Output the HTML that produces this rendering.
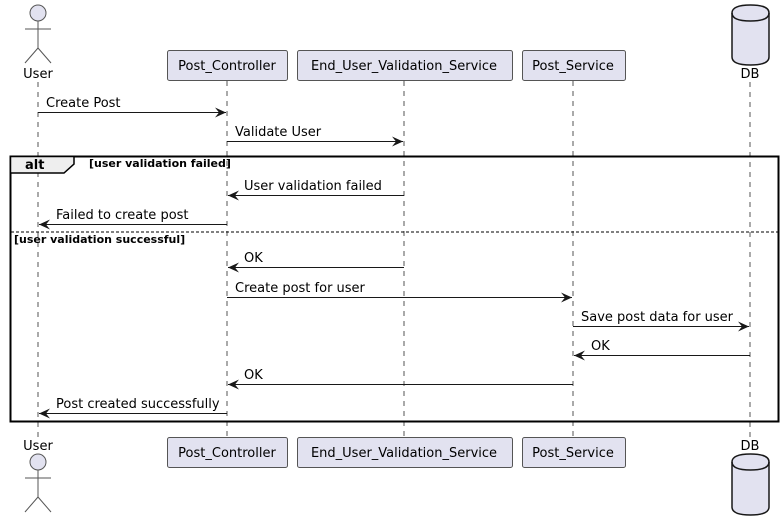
<!DOCTYPE html>
<html><head><meta charset="utf-8"><style>
html,body{margin:0;padding:0;background:#fff;}
svg{display:block;}
text{font-family:"DejaVu Sans","Liberation Sans",sans-serif;font-size:13px;fill:#000;}
.b{font-weight:bold;font-size:11px;}
</style></head><body>
<svg width="784" height="518" viewBox="0 0 784 518" xmlns="http://www.w3.org/2000/svg">
<defs>
<marker id="a" viewBox="0 0 12 10" refX="11" refY="5" markerWidth="12" markerHeight="10" markerUnits="userSpaceOnUse" orient="auto">
<path d="M0,0 L11,5 L0,10 L4,5 Z" fill="#181818"/>
</marker>
</defs>
<g stroke="#555" stroke-width="1" stroke-dasharray="5,5">
<line x1="38" y1="82" x2="38" y2="437"/>
<line x1="227" y1="81" x2="227" y2="437"/>
<line x1="404" y1="81" x2="404" y2="437"/>
<line x1="573" y1="81" x2="573" y2="437"/>
<line x1="750" y1="82" x2="750" y2="437"/>
</g>
<!-- top actor -->
<g stroke="#555" fill="#e2e2f0" stroke-width="1">
<circle cx="38" cy="13" r="8"/>
<line x1="38" y1="21" x2="38" y2="48"/>
<line x1="25" y1="29" x2="51" y2="29"/>
<line x1="38" y1="48" x2="25" y2="63"/>
<line x1="38" y1="48" x2="51" y2="63"/>
</g>
<text x="38" y="78" text-anchor="middle">User</text>
<!-- bottom actor -->
<g stroke="#555" fill="#e2e2f0" stroke-width="1">
<circle cx="38" cy="462" r="8"/>
<line x1="38" y1="470" x2="38" y2="497"/>
<line x1="25" y1="478" x2="51" y2="478"/>
<line x1="38" y1="497" x2="25" y2="512"/>
<line x1="38" y1="497" x2="51" y2="512"/>
</g>
<text x="38" y="450" text-anchor="middle">User</text>
<!-- boxes -->
<g fill="#e2e2f0" stroke="#555" stroke-width="1">
<rect x="167.5" y="50.5" width="120" height="30" rx="2"/>
<rect x="297.5" y="50.5" width="215" height="30" rx="2"/>
<rect x="522.5" y="50.5" width="103" height="30" rx="2"/>
<rect x="167.5" y="437.5" width="120" height="30" rx="2"/>
<rect x="297.5" y="437.5" width="215" height="30" rx="2"/>
<rect x="522.5" y="437.5" width="103" height="30" rx="2"/>
</g>
<text x="227" y="70" text-anchor="middle">Post_Controller</text>
<text x="404" y="70" text-anchor="middle">End_User_Validation_Service</text>
<text x="573" y="70" text-anchor="middle">Post_Service</text>
<text x="227" y="457" text-anchor="middle">Post_Controller</text>
<text x="404" y="457" text-anchor="middle">End_User_Validation_Service</text>
<text x="573" y="457" text-anchor="middle">Post_Service</text>
<!-- DB cylinders -->
<g fill="#e2e2f0" stroke="#181818" stroke-width="1.5">
<path d="M732,13 Q732,5 750.5,5 Q769,5 769,13 L769,57 Q769,65 750.5,65 Q732,65 732,57 Z"/>
<path d="M732,13 Q732,21 750.5,21 Q769,21 769,13" fill="none"/>
<path d="M732,462 Q732,454 750.5,454 Q769,454 769,462 L769,507 Q769,515 750.5,515 Q732,515 732,507 Z"/>
<path d="M732,462 Q732,470 750.5,470 Q769,470 769,462" fill="none"/>
</g>
<text x="750" y="78" text-anchor="middle">DB</text>
<text x="750" y="450" text-anchor="middle">DB</text>
<!-- alt frame -->
<rect x="10.5" y="156.5" width="768" height="265" fill="none" stroke="#000" stroke-width="2"/>
<path d="M10.5,156.5 L74,156.5 L74,164 L64,173 L10.5,173 Z" fill="#eee" stroke="#000" stroke-width="1.5"/>
<text x="25" y="169" style="font-weight:bold;font-size:13px">alt</text>
<text class="b" x="89" y="167">[user validation failed]</text>
<line x1="11" y1="232" x2="778" y2="232" stroke="#000" stroke-width="1" stroke-dasharray="3,2"/>
<text class="b" x="14" y="243">[user validation successful]</text>
<!-- messages -->
<g stroke="#181818" stroke-width="1" marker-end="url(#a)">
<line x1="38" y1="112.5" x2="226" y2="112.5"/>
<line x1="227" y1="141.5" x2="403" y2="141.5"/>
<line x1="404" y1="195.5" x2="228" y2="195.5"/>
<line x1="227" y1="224.5" x2="39" y2="224.5"/>
<line x1="404" y1="267.5" x2="228" y2="267.5"/>
<line x1="227" y1="297.5" x2="572" y2="297.5"/>
<line x1="573" y1="326.5" x2="749" y2="326.5"/>
<line x1="750" y1="355.5" x2="574" y2="355.5"/>
<line x1="573" y1="384.5" x2="228" y2="384.5"/>
<line x1="227" y1="413.5" x2="39" y2="413.5"/>
</g>
<text x="46" y="107">Create Post</text>
<text x="235" y="136">Validate User</text>
<text x="244" y="190">User validation failed</text>
<text x="56" y="219">Failed to create post</text>
<text x="244" y="262">OK</text>
<text x="235" y="292">Create post for user</text>
<text x="581" y="321">Save post data for user</text>
<text x="591" y="350">OK</text>
<text x="244" y="379">OK</text>
<text x="56" y="408">Post created successfully</text>
</svg>
</body></html>
